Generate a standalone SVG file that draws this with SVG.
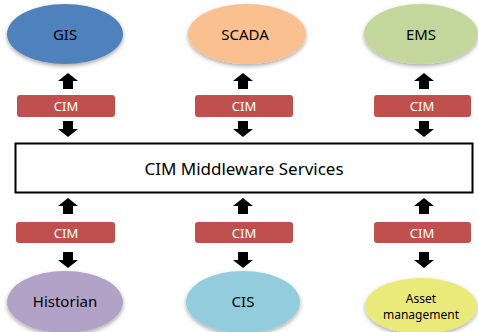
<svg xmlns="http://www.w3.org/2000/svg" width="478" height="332" viewBox="0 0 478 332">
  <style>
    .lbl { font-family: "Noto Sans", "Open Sans", "Liberation Sans", sans-serif; font-size: 15px; fill: #000; text-anchor: middle; dominant-baseline: central; }
    .cim rect { fill: #C0504D; }
    .cim text { font-family: "Noto Sans", "Open Sans", "Liberation Sans", sans-serif; font-size: 13px; fill: #fff; text-anchor: middle; dominant-baseline: central; }
    .arrow { fill: #000; }
    .sys ellipse { filter: url(#shadow); }
  </style>
  <defs>
    <filter id="shadow" x="-20%" y="-20%" width="140%" height="150%">
      <feGaussianBlur in="SourceAlpha" stdDeviation="2"/>
      <feOffset dx="0" dy="2" result="b"/>
      <feComponentTransfer><feFuncA type="linear" slope="0.35"/></feComponentTransfer>
      <feMerge><feMergeNode/><feMergeNode in="SourceGraphic"/></feMerge>
    </filter>
    <!-- block arrow pointing up, origin at tip -->
    <path id="up" d="M0,0 L10,8 L5,8 L5,16 L-5,16 L-5,8 L-10,8 Z"/>
    <!-- block arrow pointing down, origin at tip -->
    <path id="down" d="M0,0 L10,-8 L5,-8 L5,-16 L-5,-16 L-5,-8 L-10,-8 Z"/>
  </defs>

  <!-- systems above the middleware -->
  <g id="gis" class="sys">
    <ellipse cx="65" cy="34" rx="58" ry="30" fill="#4F81BD"/>
    <text class="lbl" x="65" y="34">GIS</text>
  </g>
  <g id="scada" class="sys">
    <ellipse cx="247" cy="34" rx="59" ry="30" fill="#FAC090"/>
    <text class="lbl" x="245" y="34">SCADA</text>
  </g>
  <g id="ems" class="sys">
    <ellipse cx="421" cy="34" rx="57" ry="30" fill="#C3D69B"/>
    <text class="lbl" x="421" y="34">EMS</text>
  </g>

  <!-- middleware bus -->
  <g id="middleware">
    <rect x="15.5" y="143.5" width="457" height="49" fill="#fff" stroke="#000" stroke-width="2"/>
    <text class="lbl" x="244" y="168" style="font-size:17px">CIM Middleware Services</text>
  </g>

  <!-- systems below the middleware -->
  <g id="historian" class="sys">
    <ellipse cx="65" cy="302" rx="58" ry="31" fill="#B3A2C7"/>
    <text class="lbl" x="65" y="301">Historian</text>
  </g>
  <g id="cis" class="sys">
    <ellipse cx="243" cy="302" rx="57" ry="31" fill="#93CDDD"/>
    <text class="lbl" x="243" y="301">CIS</text>
  </g>
  <g id="asset" class="sys">
    <ellipse cx="421" cy="306" rx="56" ry="28" fill="#EAEA7A"/>
    <text class="lbl" x="421" y="298" style="font-size:12px">Asset</text>
    <text class="lbl" x="421" y="314" style="font-size:12px">management</text>
  </g>

  <!-- CIM links between each system and the middleware -->
  <g id="connectors">
    <g class="cim">
      <rect x="17" y="95" width="98" height="22" rx="3"/><text x="66" y="106">CIM</text>
      <rect x="195" y="95" width="98" height="22" rx="3"/><text x="244" y="106">CIM</text>
      <rect x="374" y="95" width="97" height="22" rx="3"/><text x="422" y="106">CIM</text>
      <rect x="16" y="222" width="99" height="21" rx="3"/><text x="66" y="232.5">CIM</text>
      <rect x="195" y="222" width="98" height="21" rx="3"/><text x="244" y="232.5">CIM</text>
      <rect x="374" y="222" width="97" height="21" rx="3"/><text x="422" y="232.5">CIM</text>
    </g>
    <g class="arrow">
      <use href="#up" x="68" y="73"/>
      <use href="#up" x="243" y="73"/>
      <use href="#up" x="424" y="73"/>
      <use href="#down" x="68" y="137"/>
      <use href="#down" x="243" y="137"/>
      <use href="#down" x="424" y="137"/>
      <use href="#up" x="68" y="198"/>
      <use href="#up" x="243" y="198"/>
      <use href="#up" x="424" y="198"/>
      <use href="#down" x="68" y="268"/>
      <use href="#down" x="243" y="268"/>
      <use href="#down" x="424" y="268"/>
    </g>
  </g>
</svg>
